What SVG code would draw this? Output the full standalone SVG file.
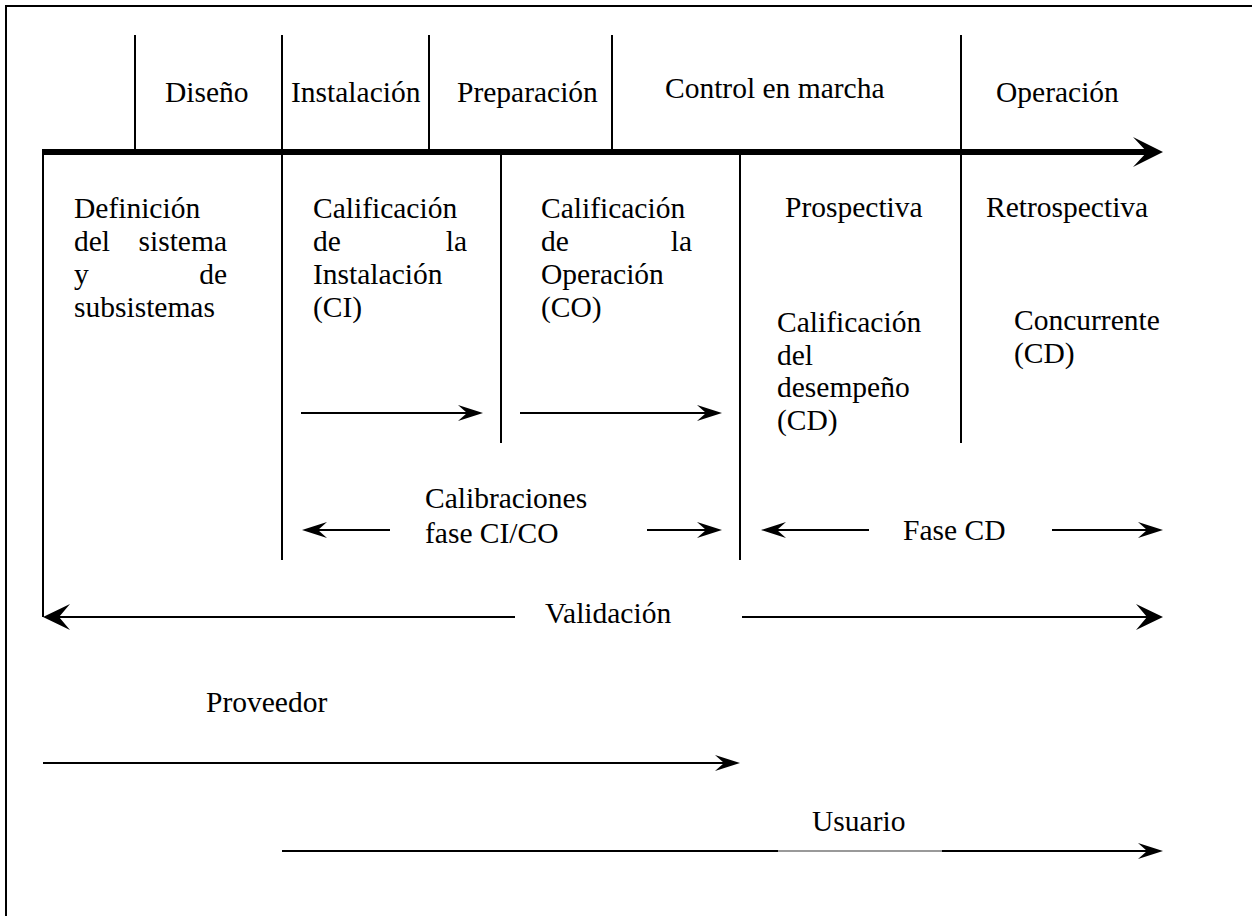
<svg xmlns="http://www.w3.org/2000/svg" width="1252" height="916" viewBox="0 0 1252 916">
<style>
  text { font-family: "Liberation Serif", "Times New Roman", serif; font-size: 29.5px; fill: #000; }
  .ln { stroke: #000; stroke-width: 2; fill: none; }
  .bar { stroke: #000; stroke-width: 6; fill: none; }
</style>
<defs>
  <marker id="big" markerUnits="userSpaceOnUse" viewBox="0 0 30 30" markerWidth="30" markerHeight="30" refX="14" refY="15" orient="auto">
    <path d="M0,0 L30,15 L0,30 L14,15 Z" fill="#000"/>
  </marker>
  <marker id="med" markerUnits="userSpaceOnUse" viewBox="0 0 27 26" markerWidth="27" markerHeight="26" refX="11" refY="13" orient="auto">
    <path d="M0,0 L27,13 L0,26 L11,13 Z" fill="#000"/>
  </marker>
  <marker id="sml" markerUnits="userSpaceOnUse" viewBox="0 0 25 16" markerWidth="25" markerHeight="16" refX="9" refY="8" orient="auto">
    <path d="M0,0 L25,8 L0,16 L9,8 Z" fill="#000"/>
  </marker>
</defs>
<rect x="0" y="0" width="1252" height="916" fill="#fff"/>
<!-- frame -->
<path class="ln" d="M6,916 L6,6 L1252,6"/>

<g id="connectors">
  <!-- timeline bar -->
  <line class="bar" x1="43" y1="152" x2="1147" y2="152" marker-end="url(#big)"/>
  <!-- top dividers -->
  <line class="ln" x1="135" y1="35" x2="135" y2="152"/>
  <line class="ln" x1="282" y1="35" x2="282" y2="560"/>
  <line class="ln" x1="429" y1="35" x2="429" y2="152"/>
  <line class="ln" x1="612" y1="35" x2="612" y2="152"/>
  <line class="ln" x1="961" y1="35" x2="961" y2="443"/>
  <!-- lower dividers -->
  <line class="ln" x1="43" y1="149" x2="43" y2="617"/>
  <line class="ln" x1="501" y1="152" x2="501" y2="443"/>
  <line class="ln" x1="740" y1="152" x2="740" y2="560"/>
  <!-- CI / CO arrows -->
  <line class="ln" x1="301" y1="413" x2="467" y2="413" marker-end="url(#sml)"/>
  <line class="ln" x1="520" y1="413" x2="706" y2="413" marker-end="url(#sml)"/>
  <!-- Calibraciones -->
  <line class="ln" x1="390" y1="530" x2="318" y2="530" marker-end="url(#sml)"/>
  <line class="ln" x1="647" y1="530" x2="706" y2="530" marker-end="url(#sml)"/>
  <!-- Fase CD -->
  <line class="ln" x1="869" y1="530" x2="777" y2="530" marker-end="url(#sml)"/>
  <line class="ln" x1="1052" y1="530" x2="1147" y2="530" marker-end="url(#sml)"/>
  <!-- Validacion -->
  <line class="ln" x1="515" y1="617" x2="59" y2="617" marker-end="url(#med)"/>
  <line class="ln" x1="742" y1="617" x2="1147" y2="617" marker-end="url(#med)"/>
  <!-- Proveedor -->
  <line class="ln" x1="43" y1="763" x2="724" y2="763" marker-end="url(#sml)"/>
  <!-- Usuario -->
  <line class="ln" x1="282" y1="851" x2="778" y2="851"/>
  <line x1="778" y1="851" x2="942" y2="851" stroke="#777" stroke-width="1.5"/>
  <line class="ln" x1="942" y1="851" x2="1147" y2="851" marker-end="url(#sml)"/>
</g>

<g id="phase-labels">
  <text x="165" y="102">Diseño</text>
  <text x="291" y="102">Instalación</text>
  <text x="457" y="102">Preparación</text>
  <text x="665" y="98">Control en marcha</text>
  <text x="996" y="102">Operación</text>
</g>

<g id="node-definicion">
  <text x="74" y="218">Definición</text>
  <text x="74" y="251">del</text>
  <text x="227" y="251" text-anchor="end">sistema</text>
  <text x="74" y="284">y</text>
  <text x="227" y="284" text-anchor="end">de</text>
  <text x="74" y="317">subsistemas</text>
</g>

<g id="node-ci">
  <text x="313" y="218">Calificación</text>
  <text x="313" y="251">de</text>
  <text x="467" y="251" text-anchor="end">la</text>
  <text x="313" y="284">Instalación</text>
  <text x="313" y="317">(CI)</text>
</g>

<g id="node-co">
  <text x="541" y="218">Calificación</text>
  <text x="541" y="251">de</text>
  <text x="692" y="251" text-anchor="end">la</text>
  <text x="541" y="284">Operación</text>
  <text x="541" y="317">(CO)</text>
</g>

<g id="node-prospectiva">
  <text x="785" y="217">Prospectiva</text>
  <text x="777" y="332">Calificación</text>
  <text x="777" y="365">del</text>
  <text x="777" y="397">desempeño</text>
  <text x="777" y="430">(CD)</text>
</g>

<g id="node-retrospectiva">
  <text x="986" y="217">Retrospectiva</text>
  <text x="1014" y="330">Concurrente</text>
  <text x="1014" y="363">(CD)</text>
</g>

<g id="node-calibraciones">
  <text x="425" y="508">Calibraciones</text>
  <text x="425" y="543">fase CI/CO</text>
</g>

<g id="node-fasecd">
  <text x="903" y="540">Fase CD</text>
</g>

<g id="node-validacion">
  <text x="545" y="623">Validación</text>
</g>

<g id="node-proveedor">
  <text x="206" y="712">Proveedor</text>
</g>

<g id="node-usuario">
  <text x="812" y="831">Usuario</text>
</g>
</svg>
